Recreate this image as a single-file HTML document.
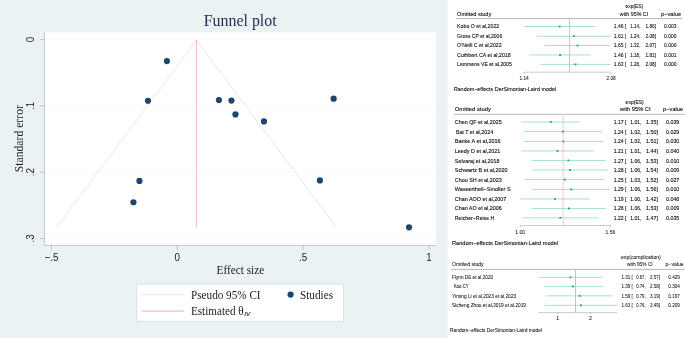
<!DOCTYPE html><html><head><meta charset="utf-8"><title>Funnel plot</title>
<style>html,body{margin:0;padding:0;background:#fff;}body{width:685px;height:338px;overflow:hidden;}svg{display:block;will-change:transform;}text{white-space:pre;}.sf{font-family:"Liberation Serif",serif;}.ss{font-family:"Liberation Sans",sans-serif;}</style></head><body>
<svg width="685" height="338" viewBox="0 0 685 338">
<rect x="0" y="0" width="685" height="338" fill="#eaf2f3"/>
<rect x="44.4" y="32.4" width="391.6" height="213.0" fill="#ffffff"/>
<line x1="44.4" x2="436.0" y1="39.5" y2="39.5" stroke="#f5f8f8" stroke-width="0.7"/>
<line x1="44.4" x2="436.0" y1="105.8" y2="105.8" stroke="#f5f8f8" stroke-width="0.7"/>
<line x1="44.4" x2="436.0" y1="172.2" y2="172.2" stroke="#f5f8f8" stroke-width="0.7"/>
<line x1="44.4" x2="436.0" y1="238.5" y2="238.5" stroke="#f5f8f8" stroke-width="0.7"/>
<line x1="44.4" x2="44.4" y1="32.4" y2="245.4" stroke="#adb6b8" stroke-width="0.7"/>
<line x1="44.4" x2="436.0" y1="245.4" y2="245.4" stroke="#adb6b8" stroke-width="0.7"/>
<line x1="40.0" x2="44.4" y1="39.5" y2="39.5" stroke="#adb6b8" stroke-width="0.7"/>
<line x1="40.0" x2="44.4" y1="105.8" y2="105.8" stroke="#adb6b8" stroke-width="0.7"/>
<line x1="40.0" x2="44.4" y1="172.2" y2="172.2" stroke="#adb6b8" stroke-width="0.7"/>
<line x1="40.0" x2="44.4" y1="238.5" y2="238.5" stroke="#adb6b8" stroke-width="0.7"/>
<line x1="51.5" x2="51.5" y1="245.4" y2="250.1" stroke="#adb6b8" stroke-width="0.7"/>
<line x1="177.3" x2="177.3" y1="245.4" y2="250.1" stroke="#adb6b8" stroke-width="0.7"/>
<line x1="303.1" x2="303.1" y1="245.4" y2="250.1" stroke="#adb6b8" stroke-width="0.7"/>
<line x1="428.9" x2="428.9" y1="245.4" y2="250.1" stroke="#adb6b8" stroke-width="0.7"/>
<polyline points="56.5,227.5 196.5,40.0 336.5,227.5" fill="none" stroke="#e3dfe1" stroke-width="0.8" stroke-linejoin="bevel"/>
<line x1="196.5" x2="196.5" y1="40.0" y2="227.3" stroke="#e9a3b6" stroke-width="0.7"/>
<circle cx="166.9" cy="61.1" r="3.1" fill="#1a476f"/>
<circle cx="147.95" cy="100.75" r="3.1" fill="#1a476f"/>
<circle cx="218.9" cy="100.05" r="3.1" fill="#1a476f"/>
<circle cx="231.45" cy="100.55" r="3.1" fill="#1a476f"/>
<circle cx="235.45" cy="114.45" r="3.1" fill="#1a476f"/>
<circle cx="263.95" cy="121.45" r="3.1" fill="#1a476f"/>
<circle cx="333.65" cy="98.65" r="3.1" fill="#1a476f"/>
<circle cx="139.45" cy="180.95" r="3.1" fill="#1a476f"/>
<circle cx="133.45" cy="202.25" r="3.1" fill="#1a476f"/>
<circle cx="319.9" cy="180.45" r="3.1" fill="#1a476f"/>
<circle cx="409.05" cy="227.3" r="3.1" fill="#1a476f"/>
<text class="ss" font-size="11.2" fill="#1c1c1c" text-anchor="middle" transform="translate(34.3,39.5) rotate(-90) scale(0.88,1)">0</text>
<text class="ss" font-size="11.2" fill="#1c1c1c" text-anchor="middle" transform="translate(34.3,105.8) rotate(-90) scale(0.88,1)">.1</text>
<text class="ss" font-size="11.2" fill="#1c1c1c" text-anchor="middle" transform="translate(34.3,172.2) rotate(-90) scale(0.88,1)">.2</text>
<text class="ss" font-size="11.2" fill="#1c1c1c" text-anchor="middle" transform="translate(34.3,238.5) rotate(-90) scale(0.88,1)">.3</text>
<text class="ss" font-size="11.2" fill="#1c1c1c" text-anchor="middle" transform="translate(51.5,261.2) scale(0.88,1)">−.5</text>
<text class="ss" font-size="11.2" fill="#1c1c1c" text-anchor="middle" transform="translate(177.3,261.2) scale(0.88,1)">0</text>
<text class="ss" font-size="11.2" fill="#1c1c1c" text-anchor="middle" transform="translate(303.1,261.2) scale(0.88,1)">.5</text>
<text class="ss" font-size="11.2" fill="#1c1c1c" text-anchor="middle" transform="translate(428.9,261.2) scale(0.88,1)">1</text>
<text class="sf" font-size="11.7" fill="#1c1c1c" text-anchor="middle" transform="translate(23,138.7) rotate(-90)">Standard error</text>
<text class="sf" font-size="11.7" fill="#1c1c1c" x="216.6" y="274" textLength="47.6" lengthAdjust="spacingAndGlyphs">Effect size</text>
<text class="sf" font-size="15.9" fill="#1e2d53" text-anchor="middle" x="240.2" y="25.5">Funnel plot</text>
<rect x="136.8" y="284.1" width="206.7" height="37.4" fill="#ffffff" stroke="#d2d8db" stroke-width="0.7"/>
<line x1="141.7" x2="183.8" y1="294.6" y2="294.6" stroke="#e6e0e2" stroke-width="0.8"/>
<line x1="141.7" x2="183.8" y1="311.1" y2="311.1" stroke="#e9a3b6" stroke-width="0.9"/>
<text class="sf" font-size="11.7" fill="#1c1c1c" x="191.0" y="298.5" textLength="69.6" lengthAdjust="spacingAndGlyphs">Pseudo 95% CI</text>
<text class="sf" font-size="11.7" fill="#1c1c1c" x="191.0" y="315.3" textLength="52.6" lengthAdjust="spacingAndGlyphs">Estimated θ</text>
<text class="ss" font-size="6.2" font-style="italic" fill="#1c1c1c" x="244.2" y="316.3" stroke="#1c1c1c" stroke-width="0.15">IV</text>
<circle cx="290.6" cy="294.6" r="3.1" fill="#1a476f"/>
<text class="sf" font-size="11.7" fill="#1c1c1c" x="300" y="298.5" textLength="33.0" lengthAdjust="spacingAndGlyphs">Studies</text>
<rect x="447.5" y="0" width="237.5" height="338" fill="#ffffff"/>
<text class="ss" font-size="5.4" fill="#111111" stroke="#111111" stroke-width="0.1" x="457.1" y="16.0" text-anchor="start" textLength="34.1" lengthAdjust="spacingAndGlyphs">Omitted study</text>
<text class="ss" font-size="5.4" fill="#111111" stroke="#111111" stroke-width="0.1" x="634.4" y="8.2" text-anchor="middle" textLength="17.6" lengthAdjust="spacingAndGlyphs">exp(ES)</text>
<text class="ss" font-size="5.4" fill="#111111" stroke="#111111" stroke-width="0.1" x="634.0" y="16.0" text-anchor="middle" textLength="28.4" lengthAdjust="spacingAndGlyphs">with 95% CI</text>
<text class="ss" font-size="5.4" fill="#111111" stroke="#111111" stroke-width="0.1" x="671.0" y="16.0" text-anchor="middle" textLength="20.2" lengthAdjust="spacingAndGlyphs">p−value</text>
<line x1="456.1" x2="682.1" y1="18.6" y2="18.6" stroke="#969696" stroke-width="0.7"/>
<line x1="569.5" x2="569.5" y1="18.6" y2="72.2" stroke="#f2aabf" stroke-width="0.9"/>
<text class="ss" font-size="5.4" fill="#111111" stroke="#111111" stroke-width="0.1" x="457.1" y="28.4" text-anchor="start" textLength="42.1" lengthAdjust="spacingAndGlyphs">Kobo O et al,2022</text>
<line x1="524.1" x2="594.9" y1="26.50" y2="26.50" stroke="#8edcbd" stroke-width="0.8"/>
<rect x="558.65" y="25.55" width="1.9" height="1.9" fill="#1ab27c"/>
<text class="ss" font-size="5.4" fill="#111111" stroke="#111111" stroke-width="0.1" x="613.8" y="28.4" text-anchor="start" textLength="12.4" lengthAdjust="spacingAndGlyphs">1.46 [</text>
<text class="ss" font-size="5.4" fill="#111111" stroke="#111111" stroke-width="0.1" x="630.3" y="28.4" text-anchor="start" textLength="10.1" lengthAdjust="spacingAndGlyphs">1.14,</text>
<text class="ss" font-size="5.4" fill="#111111" stroke="#111111" stroke-width="0.1" x="645.5" y="28.4" text-anchor="start" textLength="10.5" lengthAdjust="spacingAndGlyphs">1.86]</text>
<text class="ss" font-size="5.4" fill="#111111" stroke="#111111" stroke-width="0.1" x="664.1" y="28.4" text-anchor="start" textLength="12.4" lengthAdjust="spacingAndGlyphs">0.003</text>
<text class="ss" font-size="5.4" fill="#111111" stroke="#111111" stroke-width="0.1" x="457.1" y="37.9" text-anchor="start" textLength="45.1" lengthAdjust="spacingAndGlyphs">Gross CP et al,2006</text>
<line x1="536.8" x2="610.7" y1="36.25" y2="36.25" stroke="#8edcbd" stroke-width="0.8"/>
<rect x="572.95" y="35.30" width="1.9" height="1.9" fill="#1ab27c"/>
<text class="ss" font-size="5.4" fill="#111111" stroke="#111111" stroke-width="0.1" x="613.8" y="37.9" text-anchor="start" textLength="12.4" lengthAdjust="spacingAndGlyphs">1.61 [</text>
<text class="ss" font-size="5.4" fill="#111111" stroke="#111111" stroke-width="0.1" x="630.3" y="37.9" text-anchor="start" textLength="10.1" lengthAdjust="spacingAndGlyphs">1.24,</text>
<text class="ss" font-size="5.4" fill="#111111" stroke="#111111" stroke-width="0.1" x="645.5" y="37.9" text-anchor="start" textLength="10.5" lengthAdjust="spacingAndGlyphs">2.08]</text>
<text class="ss" font-size="5.4" fill="#111111" stroke="#111111" stroke-width="0.1" x="664.1" y="37.9" text-anchor="start" textLength="12.4" lengthAdjust="spacingAndGlyphs">0.000</text>
<text class="ss" font-size="5.4" fill="#111111" stroke="#111111" stroke-width="0.1" x="457.1" y="47.3" text-anchor="start" textLength="44.5" lengthAdjust="spacingAndGlyphs">O’Neill C et al,2022</text>
<line x1="544.9" x2="609.9" y1="45.50" y2="45.50" stroke="#8edcbd" stroke-width="0.8"/>
<rect x="576.55" y="44.55" width="1.9" height="1.9" fill="#1ab27c"/>
<text class="ss" font-size="5.4" fill="#111111" stroke="#111111" stroke-width="0.1" x="613.8" y="47.3" text-anchor="start" textLength="12.4" lengthAdjust="spacingAndGlyphs">1.65 [</text>
<text class="ss" font-size="5.4" fill="#111111" stroke="#111111" stroke-width="0.1" x="630.3" y="47.3" text-anchor="start" textLength="10.1" lengthAdjust="spacingAndGlyphs">1.32,</text>
<text class="ss" font-size="5.4" fill="#111111" stroke="#111111" stroke-width="0.1" x="645.5" y="47.3" text-anchor="start" textLength="10.5" lengthAdjust="spacingAndGlyphs">2.07]</text>
<text class="ss" font-size="5.4" fill="#111111" stroke="#111111" stroke-width="0.1" x="664.1" y="47.3" text-anchor="start" textLength="12.4" lengthAdjust="spacingAndGlyphs">0.000</text>
<text class="ss" font-size="5.4" fill="#111111" stroke="#111111" stroke-width="0.1" x="457.1" y="56.8" text-anchor="start" textLength="53.7" lengthAdjust="spacingAndGlyphs">Cuthbert CA et al,2018</text>
<line x1="529.0" x2="590.8" y1="54.95" y2="54.95" stroke="#8edcbd" stroke-width="0.8"/>
<rect x="559.15" y="54.00" width="1.9" height="1.9" fill="#1ab27c"/>
<text class="ss" font-size="5.4" fill="#111111" stroke="#111111" stroke-width="0.1" x="613.8" y="56.8" text-anchor="start" textLength="12.4" lengthAdjust="spacingAndGlyphs">1.46 [</text>
<text class="ss" font-size="5.4" fill="#111111" stroke="#111111" stroke-width="0.1" x="630.3" y="56.8" text-anchor="start" textLength="10.1" lengthAdjust="spacingAndGlyphs">1.18,</text>
<text class="ss" font-size="5.4" fill="#111111" stroke="#111111" stroke-width="0.1" x="645.5" y="56.8" text-anchor="start" textLength="10.5" lengthAdjust="spacingAndGlyphs">1.81]</text>
<text class="ss" font-size="5.4" fill="#111111" stroke="#111111" stroke-width="0.1" x="664.1" y="56.8" text-anchor="start" textLength="12.4" lengthAdjust="spacingAndGlyphs">0.001</text>
<text class="ss" font-size="5.4" fill="#111111" stroke="#111111" stroke-width="0.1" x="457.1" y="66.2" text-anchor="start" textLength="54.7" lengthAdjust="spacingAndGlyphs">Lemmens VE et al,2005</text>
<line x1="540.5" x2="610.7" y1="64.40" y2="64.40" stroke="#8edcbd" stroke-width="0.8"/>
<rect x="574.55" y="63.45" width="1.9" height="1.9" fill="#1ab27c"/>
<text class="ss" font-size="5.4" fill="#111111" stroke="#111111" stroke-width="0.1" x="613.8" y="66.2" text-anchor="start" textLength="12.4" lengthAdjust="spacingAndGlyphs">1.63 [</text>
<text class="ss" font-size="5.4" fill="#111111" stroke="#111111" stroke-width="0.1" x="630.3" y="66.2" text-anchor="start" textLength="10.1" lengthAdjust="spacingAndGlyphs">1.28,</text>
<text class="ss" font-size="5.4" fill="#111111" stroke="#111111" stroke-width="0.1" x="645.5" y="66.2" text-anchor="start" textLength="10.5" lengthAdjust="spacingAndGlyphs">2.08]</text>
<text class="ss" font-size="5.4" fill="#111111" stroke="#111111" stroke-width="0.1" x="664.1" y="66.2" text-anchor="start" textLength="12.4" lengthAdjust="spacingAndGlyphs">0.000</text>
<line x1="524.1" x2="610.9" y1="72.2" y2="72.2" stroke="#b4b4b4" stroke-width="0.7"/>
<line x1="524.1" x2="524.1" y1="72.2" y2="74.0" stroke="#b4b4b4" stroke-width="0.7"/>
<text class="ss" font-size="5.72" fill="#111111" stroke="#111111" stroke-width="0.04" x="524.1" y="79.5" text-anchor="middle" textLength="9.4" lengthAdjust="spacingAndGlyphs">1.14</text>
<line x1="611.1" x2="611.1" y1="72.2" y2="74.0" stroke="#b4b4b4" stroke-width="0.7"/>
<text class="ss" font-size="5.72" fill="#111111" stroke="#111111" stroke-width="0.04" x="611.1" y="79.5" text-anchor="middle" textLength="9.4" lengthAdjust="spacingAndGlyphs">2.08</text>
<text class="ss" font-size="5.4" fill="#111111" stroke="#111111" stroke-width="0.1" x="453.7" y="91.2" text-anchor="start" textLength="102.5" lengthAdjust="spacingAndGlyphs">Random−effects DerSimonian-Laird model</text>
<text class="ss" font-size="5.7" fill="#111111" stroke="#111111" stroke-width="0.12" x="454.8" y="111.4" text-anchor="start" textLength="36.1" lengthAdjust="spacingAndGlyphs">Omitted study</text>
<text class="ss" font-size="5.7" fill="#111111" stroke="#111111" stroke-width="0.12" x="634.7" y="104.1" text-anchor="middle" textLength="18.2" lengthAdjust="spacingAndGlyphs">exp(ES)</text>
<text class="ss" font-size="5.7" fill="#111111" stroke="#111111" stroke-width="0.12" x="635.3" y="111.4" text-anchor="middle" textLength="30.4" lengthAdjust="spacingAndGlyphs">with 95% CI</text>
<text class="ss" font-size="5.7" fill="#111111" stroke="#111111" stroke-width="0.12" x="673.1" y="111.4" text-anchor="middle" textLength="20.0" lengthAdjust="spacingAndGlyphs">p−value</text>
<line x1="453.9" x2="685" y1="114.3" y2="114.3" stroke="#969696" stroke-width="0.7"/>
<line x1="563.3" x2="563.3" y1="114.3" y2="225.5" stroke="#fbdfe6" stroke-width="1.8"/>
<text class="ss" font-size="5.7" fill="#111111" stroke="#111111" stroke-width="0.12" x="454.8" y="124.3" text-anchor="start" textLength="46.9" lengthAdjust="spacingAndGlyphs">Chen QF et al,2025</text>
<line x1="521.1" x2="580.5" y1="122.05" y2="122.05" stroke="#8edcbd" stroke-width="0.8"/>
<rect x="549.85" y="121.10" width="1.9" height="1.9" fill="#1ab27c"/>
<text class="ss" font-size="5.7" fill="#111111" stroke="#111111" stroke-width="0.12" x="613.8" y="124.3" text-anchor="start" textLength="12.7" lengthAdjust="spacingAndGlyphs">1.17 [</text>
<text class="ss" font-size="5.7" fill="#111111" stroke="#111111" stroke-width="0.12" x="630.3" y="124.3" text-anchor="start" textLength="11.1" lengthAdjust="spacingAndGlyphs">1.01,</text>
<text class="ss" font-size="5.7" fill="#111111" stroke="#111111" stroke-width="0.12" x="646.1" y="124.3" text-anchor="start" textLength="11.8" lengthAdjust="spacingAndGlyphs">1.35]</text>
<text class="ss" font-size="5.7" fill="#111111" stroke="#111111" stroke-width="0.12" x="666.0" y="124.3" text-anchor="start" textLength="13.3" lengthAdjust="spacingAndGlyphs">0.039</text>
<text class="ss" font-size="5.7" fill="#111111" stroke="#111111" stroke-width="0.12" x="456.1" y="133.8" text-anchor="start" textLength="37.0" lengthAdjust="spacingAndGlyphs">Bai T et al,2024</text>
<line x1="524.0" x2="601.9" y1="131.55" y2="131.55" stroke="#8edcbd" stroke-width="0.8"/>
<rect x="561.95" y="130.60" width="1.9" height="1.9" fill="#1ab27c"/>
<text class="ss" font-size="5.7" fill="#111111" stroke="#111111" stroke-width="0.12" x="613.8" y="133.8" text-anchor="start" textLength="12.7" lengthAdjust="spacingAndGlyphs">1.24 [</text>
<text class="ss" font-size="5.7" fill="#111111" stroke="#111111" stroke-width="0.12" x="630.3" y="133.8" text-anchor="start" textLength="11.1" lengthAdjust="spacingAndGlyphs">1.02,</text>
<text class="ss" font-size="5.7" fill="#111111" stroke="#111111" stroke-width="0.12" x="646.1" y="133.8" text-anchor="start" textLength="11.8" lengthAdjust="spacingAndGlyphs">1.50]</text>
<text class="ss" font-size="5.7" fill="#111111" stroke="#111111" stroke-width="0.12" x="666.0" y="133.8" text-anchor="start" textLength="13.3" lengthAdjust="spacingAndGlyphs">0.029</text>
<text class="ss" font-size="5.7" fill="#111111" stroke="#111111" stroke-width="0.12" x="454.8" y="143.4" text-anchor="start" textLength="45.8" lengthAdjust="spacingAndGlyphs">Banke A et al,2016</text>
<line x1="523.8" x2="603.1" y1="141.45" y2="141.45" stroke="#8edcbd" stroke-width="0.8"/>
<rect x="562.55" y="140.50" width="1.9" height="1.9" fill="#1ab27c"/>
<text class="ss" font-size="5.7" fill="#111111" stroke="#111111" stroke-width="0.12" x="613.8" y="143.4" text-anchor="start" textLength="12.7" lengthAdjust="spacingAndGlyphs">1.24 [</text>
<text class="ss" font-size="5.7" fill="#111111" stroke="#111111" stroke-width="0.12" x="630.3" y="143.4" text-anchor="start" textLength="11.1" lengthAdjust="spacingAndGlyphs">1.02,</text>
<text class="ss" font-size="5.7" fill="#111111" stroke="#111111" stroke-width="0.12" x="646.1" y="143.4" text-anchor="start" textLength="11.8" lengthAdjust="spacingAndGlyphs">1.51]</text>
<text class="ss" font-size="5.7" fill="#111111" stroke="#111111" stroke-width="0.12" x="666.0" y="143.4" text-anchor="start" textLength="13.3" lengthAdjust="spacingAndGlyphs">0.030</text>
<text class="ss" font-size="5.7" fill="#111111" stroke="#111111" stroke-width="0.12" x="454.8" y="153.0" text-anchor="start" textLength="45.4" lengthAdjust="spacingAndGlyphs">Leedy D et al,2021</text>
<line x1="521.1" x2="594.0" y1="150.95" y2="150.95" stroke="#8edcbd" stroke-width="0.8"/>
<rect x="556.55" y="150.00" width="1.9" height="1.9" fill="#1ab27c"/>
<text class="ss" font-size="5.7" fill="#111111" stroke="#111111" stroke-width="0.12" x="613.8" y="153.0" text-anchor="start" textLength="12.7" lengthAdjust="spacingAndGlyphs">1.21 [</text>
<text class="ss" font-size="5.7" fill="#111111" stroke="#111111" stroke-width="0.12" x="630.3" y="153.0" text-anchor="start" textLength="11.1" lengthAdjust="spacingAndGlyphs">1.01,</text>
<text class="ss" font-size="5.7" fill="#111111" stroke="#111111" stroke-width="0.12" x="646.1" y="153.0" text-anchor="start" textLength="11.8" lengthAdjust="spacingAndGlyphs">1.44]</text>
<text class="ss" font-size="5.7" fill="#111111" stroke="#111111" stroke-width="0.12" x="666.0" y="153.0" text-anchor="start" textLength="13.3" lengthAdjust="spacingAndGlyphs">0.040</text>
<text class="ss" font-size="5.7" fill="#111111" stroke="#111111" stroke-width="0.12" x="454.8" y="162.5" text-anchor="start" textLength="44.8" lengthAdjust="spacingAndGlyphs">Selvaraj et al,2018</text>
<line x1="531.3" x2="605.5" y1="160.45" y2="160.45" stroke="#8edcbd" stroke-width="0.8"/>
<rect x="567.45" y="159.50" width="1.9" height="1.9" fill="#1ab27c"/>
<text class="ss" font-size="5.7" fill="#111111" stroke="#111111" stroke-width="0.12" x="613.8" y="162.5" text-anchor="start" textLength="12.7" lengthAdjust="spacingAndGlyphs">1.27 [</text>
<text class="ss" font-size="5.7" fill="#111111" stroke="#111111" stroke-width="0.12" x="630.3" y="162.5" text-anchor="start" textLength="11.1" lengthAdjust="spacingAndGlyphs">1.06,</text>
<text class="ss" font-size="5.7" fill="#111111" stroke="#111111" stroke-width="0.12" x="646.1" y="162.5" text-anchor="start" textLength="11.8" lengthAdjust="spacingAndGlyphs">1.53]</text>
<text class="ss" font-size="5.7" fill="#111111" stroke="#111111" stroke-width="0.12" x="666.0" y="162.5" text-anchor="start" textLength="13.3" lengthAdjust="spacingAndGlyphs">0.010</text>
<text class="ss" font-size="5.7" fill="#111111" stroke="#111111" stroke-width="0.12" x="454.8" y="172.1" text-anchor="start" textLength="52.7" lengthAdjust="spacingAndGlyphs">Schwartz B et al,2020</text>
<line x1="532.1" x2="607.8" y1="170.00" y2="170.00" stroke="#8edcbd" stroke-width="0.8"/>
<rect x="569.05" y="169.05" width="1.9" height="1.9" fill="#1ab27c"/>
<text class="ss" font-size="5.7" fill="#111111" stroke="#111111" stroke-width="0.12" x="613.8" y="172.1" text-anchor="start" textLength="12.7" lengthAdjust="spacingAndGlyphs">1.28 [</text>
<text class="ss" font-size="5.7" fill="#111111" stroke="#111111" stroke-width="0.12" x="630.3" y="172.1" text-anchor="start" textLength="11.1" lengthAdjust="spacingAndGlyphs">1.06,</text>
<text class="ss" font-size="5.7" fill="#111111" stroke="#111111" stroke-width="0.12" x="646.1" y="172.1" text-anchor="start" textLength="11.8" lengthAdjust="spacingAndGlyphs">1.54]</text>
<text class="ss" font-size="5.7" fill="#111111" stroke="#111111" stroke-width="0.12" x="666.0" y="172.1" text-anchor="start" textLength="13.3" lengthAdjust="spacingAndGlyphs">0.009</text>
<text class="ss" font-size="5.7" fill="#111111" stroke="#111111" stroke-width="0.12" x="454.8" y="181.7" text-anchor="start" textLength="47.0" lengthAdjust="spacingAndGlyphs">Chou SH et al,2023</text>
<line x1="524.6" x2="604.7" y1="179.55" y2="179.55" stroke="#8edcbd" stroke-width="0.8"/>
<rect x="563.75" y="178.60" width="1.9" height="1.9" fill="#1ab27c"/>
<text class="ss" font-size="5.7" fill="#111111" stroke="#111111" stroke-width="0.12" x="613.8" y="181.7" text-anchor="start" textLength="12.7" lengthAdjust="spacingAndGlyphs">1.25 [</text>
<text class="ss" font-size="5.7" fill="#111111" stroke="#111111" stroke-width="0.12" x="630.3" y="181.7" text-anchor="start" textLength="11.1" lengthAdjust="spacingAndGlyphs">1.03,</text>
<text class="ss" font-size="5.7" fill="#111111" stroke="#111111" stroke-width="0.12" x="646.1" y="181.7" text-anchor="start" textLength="11.8" lengthAdjust="spacingAndGlyphs">1.52]</text>
<text class="ss" font-size="5.7" fill="#111111" stroke="#111111" stroke-width="0.12" x="666.0" y="181.7" text-anchor="start" textLength="13.3" lengthAdjust="spacingAndGlyphs">0.027</text>
<text class="ss" font-size="5.7" fill="#111111" stroke="#111111" stroke-width="0.12" x="454.8" y="191.2" text-anchor="start" textLength="55.9" lengthAdjust="spacingAndGlyphs">Wassertheil−Smoller S</text>
<line x1="532.0" x2="610.1" y1="189.40" y2="189.40" stroke="#8edcbd" stroke-width="0.8"/>
<rect x="570.25" y="188.45" width="1.9" height="1.9" fill="#1ab27c"/>
<text class="ss" font-size="5.7" fill="#111111" stroke="#111111" stroke-width="0.12" x="613.8" y="191.2" text-anchor="start" textLength="12.7" lengthAdjust="spacingAndGlyphs">1.29 [</text>
<text class="ss" font-size="5.7" fill="#111111" stroke="#111111" stroke-width="0.12" x="630.3" y="191.2" text-anchor="start" textLength="11.1" lengthAdjust="spacingAndGlyphs">1.06,</text>
<text class="ss" font-size="5.7" fill="#111111" stroke="#111111" stroke-width="0.12" x="646.1" y="191.2" text-anchor="start" textLength="11.8" lengthAdjust="spacingAndGlyphs">1.56]</text>
<text class="ss" font-size="5.7" fill="#111111" stroke="#111111" stroke-width="0.12" x="666.0" y="191.2" text-anchor="start" textLength="13.3" lengthAdjust="spacingAndGlyphs">0.010</text>
<text class="ss" font-size="5.7" fill="#111111" stroke="#111111" stroke-width="0.12" x="454.8" y="200.8" text-anchor="start" textLength="51.4" lengthAdjust="spacingAndGlyphs">Chan AOO et al,2007</text>
<line x1="520.1" x2="589.9" y1="198.95" y2="198.95" stroke="#8edcbd" stroke-width="0.8"/>
<rect x="554.15" y="198.00" width="1.9" height="1.9" fill="#1ab27c"/>
<text class="ss" font-size="5.7" fill="#111111" stroke="#111111" stroke-width="0.12" x="613.8" y="200.8" text-anchor="start" textLength="12.7" lengthAdjust="spacingAndGlyphs">1.19 [</text>
<text class="ss" font-size="5.7" fill="#111111" stroke="#111111" stroke-width="0.12" x="630.3" y="200.8" text-anchor="start" textLength="11.1" lengthAdjust="spacingAndGlyphs">1.00,</text>
<text class="ss" font-size="5.7" fill="#111111" stroke="#111111" stroke-width="0.12" x="646.1" y="200.8" text-anchor="start" textLength="11.8" lengthAdjust="spacingAndGlyphs">1.42]</text>
<text class="ss" font-size="5.7" fill="#111111" stroke="#111111" stroke-width="0.12" x="666.0" y="200.8" text-anchor="start" textLength="13.3" lengthAdjust="spacingAndGlyphs">0.048</text>
<text class="ss" font-size="5.7" fill="#111111" stroke="#111111" stroke-width="0.12" x="454.8" y="210.4" text-anchor="start" textLength="47.0" lengthAdjust="spacingAndGlyphs">Chan AO et al,2006</text>
<line x1="531.6" x2="606.0" y1="208.45" y2="208.45" stroke="#8edcbd" stroke-width="0.8"/>
<rect x="567.95" y="207.50" width="1.9" height="1.9" fill="#1ab27c"/>
<text class="ss" font-size="5.7" fill="#111111" stroke="#111111" stroke-width="0.12" x="613.8" y="210.4" text-anchor="start" textLength="12.7" lengthAdjust="spacingAndGlyphs">1.28 [</text>
<text class="ss" font-size="5.7" fill="#111111" stroke="#111111" stroke-width="0.12" x="630.3" y="210.4" text-anchor="start" textLength="11.1" lengthAdjust="spacingAndGlyphs">1.06,</text>
<text class="ss" font-size="5.7" fill="#111111" stroke="#111111" stroke-width="0.12" x="646.1" y="210.4" text-anchor="start" textLength="11.8" lengthAdjust="spacingAndGlyphs">1.53]</text>
<text class="ss" font-size="5.7" fill="#111111" stroke="#111111" stroke-width="0.12" x="666.0" y="210.4" text-anchor="start" textLength="13.3" lengthAdjust="spacingAndGlyphs">0.009</text>
<text class="ss" font-size="5.7" fill="#111111" stroke="#111111" stroke-width="0.12" x="454.8" y="220.0" text-anchor="start" textLength="39.4" lengthAdjust="spacingAndGlyphs">Reicher−Reiss H</text>
<line x1="522.5" x2="598.0" y1="217.80" y2="217.80" stroke="#8edcbd" stroke-width="0.8"/>
<rect x="559.35" y="216.85" width="1.9" height="1.9" fill="#1ab27c"/>
<text class="ss" font-size="5.7" fill="#111111" stroke="#111111" stroke-width="0.12" x="613.8" y="220.0" text-anchor="start" textLength="12.7" lengthAdjust="spacingAndGlyphs">1.22 [</text>
<text class="ss" font-size="5.7" fill="#111111" stroke="#111111" stroke-width="0.12" x="630.3" y="220.0" text-anchor="start" textLength="11.1" lengthAdjust="spacingAndGlyphs">1.01,</text>
<text class="ss" font-size="5.7" fill="#111111" stroke="#111111" stroke-width="0.12" x="646.1" y="220.0" text-anchor="start" textLength="11.8" lengthAdjust="spacingAndGlyphs">1.47]</text>
<text class="ss" font-size="5.7" fill="#111111" stroke="#111111" stroke-width="0.12" x="666.0" y="220.0" text-anchor="start" textLength="13.3" lengthAdjust="spacingAndGlyphs">0.035</text>
<line x1="520.2" x2="610.5" y1="225.5" y2="225.5" stroke="#b4b4b4" stroke-width="0.7"/>
<line x1="520.2" x2="520.2" y1="225.5" y2="227.3" stroke="#b4b4b4" stroke-width="0.7"/>
<text class="ss" font-size="6.04" fill="#111111" stroke="#111111" stroke-width="0.04" x="520.2" y="233.6" text-anchor="middle" textLength="9.9" lengthAdjust="spacingAndGlyphs">1.00</text>
<line x1="610.5" x2="610.5" y1="225.5" y2="227.3" stroke="#b4b4b4" stroke-width="0.7"/>
<text class="ss" font-size="6.04" fill="#111111" stroke="#111111" stroke-width="0.04" x="610.5" y="233.6" text-anchor="middle" textLength="9.9" lengthAdjust="spacingAndGlyphs">1.56</text>
<text class="ss" font-size="5.7" fill="#111111" stroke="#111111" stroke-width="0.12" x="452.0" y="244.6" text-anchor="start" textLength="106.0" lengthAdjust="spacingAndGlyphs">Random−effects DerSimonian-Laird model</text>
<text class="ss" font-size="5.0" fill="#111111" stroke="#111111" stroke-width="0.05" x="452.1" y="266.3" text-anchor="start" textLength="31.6" lengthAdjust="spacingAndGlyphs">Omitted study</text>
<text class="ss" font-size="5.0" fill="#111111" stroke="#111111" stroke-width="0.05" x="640.9" y="258.8" text-anchor="middle" textLength="39.7" lengthAdjust="spacingAndGlyphs">exp(complication)</text>
<text class="ss" font-size="5.0" fill="#111111" stroke="#111111" stroke-width="0.05" x="639.9" y="266.3" text-anchor="middle" textLength="25.6" lengthAdjust="spacingAndGlyphs">with 95% CI</text>
<text class="ss" font-size="5.0" fill="#111111" stroke="#111111" stroke-width="0.05" x="674.6" y="266.3" text-anchor="middle" textLength="18.1" lengthAdjust="spacingAndGlyphs">p−value</text>
<line x1="451.0" x2="685" y1="269.4" y2="269.4" stroke="#969696" stroke-width="0.7"/>
<line x1="575.5" x2="575.5" y1="269.4" y2="312.6" stroke="#f2aabf" stroke-width="1.0"/>
<text class="ss" font-size="5.0" fill="#111111" stroke="#111111" stroke-width="0.05" x="452.1" y="279.0" text-anchor="start" textLength="41.0" lengthAdjust="spacingAndGlyphs">Flynn DE et al,2020</text>
<line x1="538.6" x2="602.5" y1="277.35" y2="277.35" stroke="#8edcbd" stroke-width="0.8"/>
<rect x="569.45" y="276.40" width="1.9" height="1.9" fill="#1ab27c"/>
<text class="ss" font-size="5.0" fill="#111111" stroke="#111111" stroke-width="0.05" x="621.4" y="279.0" text-anchor="start" textLength="11.4" lengthAdjust="spacingAndGlyphs">1.31 [</text>
<text class="ss" font-size="5.0" fill="#111111" stroke="#111111" stroke-width="0.05" x="636.2" y="279.0" text-anchor="start" textLength="9.5" lengthAdjust="spacingAndGlyphs">0.67,</text>
<text class="ss" font-size="5.0" fill="#111111" stroke="#111111" stroke-width="0.05" x="649.9" y="279.0" text-anchor="start" textLength="10.1" lengthAdjust="spacingAndGlyphs">2.57]</text>
<text class="ss" font-size="5.0" fill="#111111" stroke="#111111" stroke-width="0.05" x="668.3" y="279.0" text-anchor="start" textLength="11.6" lengthAdjust="spacingAndGlyphs">0.429</text>
<text class="ss" font-size="5.0" fill="#111111" stroke="#111111" stroke-width="0.05" x="453.7" y="288.3" text-anchor="start" textLength="15.1" lengthAdjust="spacingAndGlyphs">Koo CY</text>
<line x1="543.6" x2="602.8" y1="286.45" y2="286.45" stroke="#8edcbd" stroke-width="0.8"/>
<rect x="572.05" y="285.50" width="1.9" height="1.9" fill="#1ab27c"/>
<text class="ss" font-size="5.0" fill="#111111" stroke="#111111" stroke-width="0.05" x="621.4" y="288.3" text-anchor="start" textLength="11.4" lengthAdjust="spacingAndGlyphs">1.39 [</text>
<text class="ss" font-size="5.0" fill="#111111" stroke="#111111" stroke-width="0.05" x="636.2" y="288.3" text-anchor="start" textLength="9.5" lengthAdjust="spacingAndGlyphs">0.74,</text>
<text class="ss" font-size="5.0" fill="#111111" stroke="#111111" stroke-width="0.05" x="649.9" y="288.3" text-anchor="start" textLength="10.1" lengthAdjust="spacingAndGlyphs">2.58]</text>
<text class="ss" font-size="5.0" fill="#111111" stroke="#111111" stroke-width="0.05" x="668.3" y="288.3" text-anchor="start" textLength="11.6" lengthAdjust="spacingAndGlyphs">0.304</text>
<text class="ss" font-size="5.0" fill="#111111" stroke="#111111" stroke-width="0.05" x="452.1" y="297.6" text-anchor="start" textLength="64.2" lengthAdjust="spacingAndGlyphs">Yiming Li et al,2023 et al,2023</text>
<line x1="546.1" x2="612.8" y1="295.85" y2="295.85" stroke="#8edcbd" stroke-width="0.8"/>
<rect x="578.65" y="294.90" width="1.9" height="1.9" fill="#1ab27c"/>
<text class="ss" font-size="5.0" fill="#111111" stroke="#111111" stroke-width="0.05" x="621.4" y="297.6" text-anchor="start" textLength="11.4" lengthAdjust="spacingAndGlyphs">1.59 [</text>
<text class="ss" font-size="5.0" fill="#111111" stroke="#111111" stroke-width="0.05" x="636.2" y="297.6" text-anchor="start" textLength="9.5" lengthAdjust="spacingAndGlyphs">0.79,</text>
<text class="ss" font-size="5.0" fill="#111111" stroke="#111111" stroke-width="0.05" x="649.9" y="297.6" text-anchor="start" textLength="10.1" lengthAdjust="spacingAndGlyphs">3.19]</text>
<text class="ss" font-size="5.0" fill="#111111" stroke="#111111" stroke-width="0.05" x="668.3" y="297.6" text-anchor="start" textLength="11.6" lengthAdjust="spacingAndGlyphs">0.197</text>
<text class="ss" font-size="5.0" fill="#111111" stroke="#111111" stroke-width="0.05" x="452.1" y="307.0" text-anchor="start" textLength="73.9" lengthAdjust="spacingAndGlyphs">Sicheng Zhou et al,2019 et al,2019</text>
<line x1="544.5" x2="617.0" y1="305.35" y2="305.35" stroke="#8edcbd" stroke-width="0.8"/>
<rect x="579.95" y="304.40" width="1.9" height="1.9" fill="#1ab27c"/>
<text class="ss" font-size="5.0" fill="#111111" stroke="#111111" stroke-width="0.05" x="621.4" y="307.0" text-anchor="start" textLength="11.4" lengthAdjust="spacingAndGlyphs">1.63 [</text>
<text class="ss" font-size="5.0" fill="#111111" stroke="#111111" stroke-width="0.05" x="636.2" y="307.0" text-anchor="start" textLength="9.5" lengthAdjust="spacingAndGlyphs">0.76,</text>
<text class="ss" font-size="5.0" fill="#111111" stroke="#111111" stroke-width="0.05" x="649.9" y="307.0" text-anchor="start" textLength="10.1" lengthAdjust="spacingAndGlyphs">3.49]</text>
<text class="ss" font-size="5.0" fill="#111111" stroke="#111111" stroke-width="0.05" x="668.3" y="307.0" text-anchor="start" textLength="11.6" lengthAdjust="spacingAndGlyphs">0.209</text>
<line x1="538.6" x2="617.0" y1="312.6" y2="312.6" stroke="#b4b4b4" stroke-width="0.7"/>
<line x1="557.7" x2="557.7" y1="312.6" y2="314.40000000000003" stroke="#b4b4b4" stroke-width="0.7"/>
<text class="ss" font-size="5.3" fill="#111111" stroke="#111111" stroke-width="0.04" x="557.7" y="320.2" text-anchor="middle">1</text>
<line x1="590.6" x2="590.6" y1="312.6" y2="314.40000000000003" stroke="#b4b4b4" stroke-width="0.7"/>
<text class="ss" font-size="5.3" fill="#111111" stroke="#111111" stroke-width="0.04" x="590.6" y="320.2" text-anchor="middle">2</text>
<text class="ss" font-size="5.0" fill="#111111" stroke="#111111" stroke-width="0.05" x="450.0" y="331.5" text-anchor="start" textLength="92.0" lengthAdjust="spacingAndGlyphs">Random−effects DerSimonian-Laird model</text>
</svg></body></html>
